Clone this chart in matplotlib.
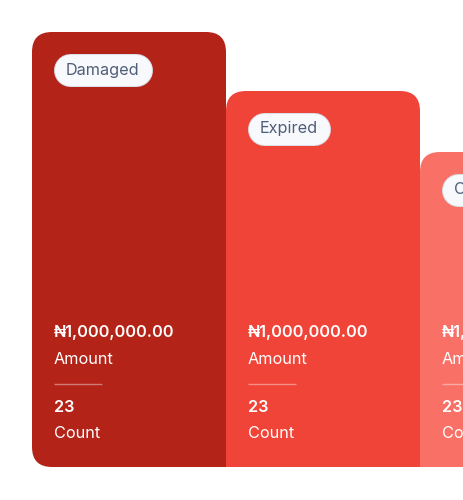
import matplotlib
matplotlib.use("Agg")
import matplotlib.pyplot as plt
from matplotlib.patches import FancyBboxPatch, Rectangle

plt.rcParams['font.family'] = ['Inter', 'DejaVu Sans']

# chart data
categories = ["Damaged", "Expired", "Others"]
bar_heights = [435, 376, 315]
amounts = ["₦1,000,000.00", "₦1,000,000.00", "₦1,000,000.00"]
counts = [23, 23, 23]
bar_colors = ["#B42318", "#F04438", "#F97066"]

W, H = 464, 500
base = 467
left = 32
bar_w = 194
rad = 20

fig = plt.figure(figsize=(W / 100, H / 100), dpi=100)
ax = fig.add_axes([0, 0, 1, 1])
ax.set_xlim(0, W)
ax.set_ylim(H, 0)
ax.axis("off")

fs = 11.7
px2pt = 0.72
labels = []
for i, (cat, h, amt, cnt, col) in enumerate(zip(categories, bar_heights, amounts, counts, bar_colors)):
    x0 = left + i * bar_w
    top = base - h
    z = 1 + i
    card = FancyBboxPatch((x0, top), bar_w, h, boxstyle=f"round,pad=0,rounding_size={rad}",
                          fc=col, ec="none", zorder=z)
    ax.add_patch(card)
    # square off the bottom corners (only first card keeps bottom-left round)
    ax.add_patch(Rectangle((x0 + bar_w - rad, base - rad), rad, rad, fc=col, ec="none", zorder=z))
    if i > 0:
        ax.add_patch(Rectangle((x0, base - rad), rad, rad, fc=col, ec="none", zorder=z))

    tx = x0 + 22
    ax.text(tx, 337, amt, color="white", fontsize=fs, fontweight="semibold", va="baseline", zorder=z + 0.5)
    ax.text(tx, 364, "Amount", color="white", fontsize=fs, va="baseline", zorder=z + 0.5)
    ax.plot([tx, tx + 48], [384, 384], color="white", alpha=0.4, lw=1, zorder=z + 0.5,
            solid_capstyle="butt")
    ax.text(tx, 412, str(cnt), color="white", fontsize=fs, fontweight="semibold", va="baseline", zorder=z + 0.5)
    ax.text(tx, 438, "Count", color="white", fontsize=fs, va="baseline", zorder=z + 0.5)

    t = ax.text(tx + 12, top + 38, cat, color="#4F5E78", fontsize=fs, va="center", zorder=z + 0.7)
    labels.append((t, tx, top + 38, z))

fig.canvas.draw()
r = fig.canvas.get_renderer()
for t, px, cy, z in labels:
    bb = t.get_window_extent(r)
    pw = bb.width + 24
    # pill drawn as a thick round-capped line so the ends are true semicircles
    xs = [px + 16, px + pw - 16]
    ax.plot(xs, [cy, cy], color="#D9DEE7", lw=33 * px2pt, solid_capstyle="round", zorder=z + 0.6)
    ax.plot(xs, [cy, cy], color="#F8F9FC", lw=31 * px2pt, solid_capstyle="round", zorder=z + 0.65)

fig.savefig("out.png", dpi=100, facecolor="white")
